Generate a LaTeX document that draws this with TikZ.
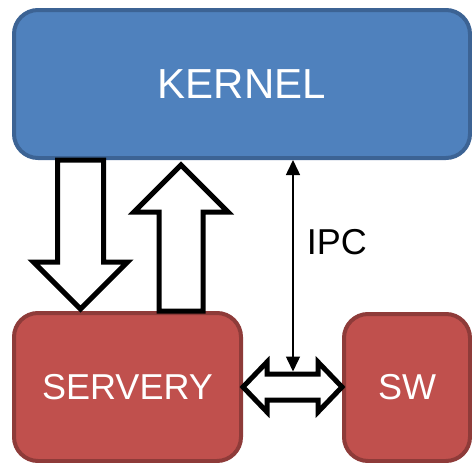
\documentclass[tikz,border=0pt]{standalone}
\usepackage{fontspec}
\setmainfont{Liberation Sans}
\usetikzlibrary{arrows.meta,calc}

\definecolor{kernelblue}{HTML}{4F81BD}
\definecolor{kernelline}{HTML}{3C6394}
\definecolor{serveryred}{HTML}{C0504D}
\definecolor{serveryline}{HTML}{8E3B39}

\tikzset{
unitbox/.style={rectangle, rounded corners=24pt, line width=4pt, text=white, inner sep=0pt},
kbox/.style={unitbox, fill=kernelblue, draw=kernelline},
rbox/.style={unitbox, fill=serveryred, draw=serveryline},
blockarrow/.style={draw=black, fill=white, line width=5pt, line join=miter},
ipc/.style={line width=1.5pt, {Triangle[length=15pt,width=14pt]}-{Triangle[length=15pt,width=14pt]}}
}

\begin{document}
\begin{tikzpicture}[x=1pt,y=-1pt]
\useasboundingbox (0,0) rectangle (472,463);

%boxes
\node [kbox, minimum width=456pt, minimum height=148pt] (kernel) at (242,84) {\fontsize{42}{50}\selectfont KERNEL};
\node [rbox, minimum width=227pt, minimum height=148pt] (servery) at (127.5,387) {\fontsize{36}{43}\selectfont SERVERY};
\node [rbox, minimum width=126pt, minimum height=147pt] (sw) at (407,387.5) {\fontsize{36}{43}\selectfont SW};

%down and up arrows
\coordinate (dtop) at ($(kernel.south west)+(68.5,0)$);
\coordinate (dtip) at ($(servery.north west)+(68.5,-2)$);
\draw [blockarrow] ($(dtop)+(-23,0)$) -- ($(dtop)+(23,0)$) -- ($(dtip)+(23,-47)$) -- ($(dtip)+(47,-47)$) -- (dtip) -- ($(dtip)+(-47,-47)$) -- ($(dtip)+(-23,-47)$) -- cycle;

\coordinate (ubot) at ($(servery.north west)+(169,0)$);
\coordinate (utip) at ($(kernel.south west)+(169,5)$);
\draw [blockarrow] ($(ubot)+(-22,0)$) -- ($(utip)+(-22,47)$) -- ($(utip)+(-47,47)$) -- (utip) -- ($(utip)+(47,47)$) -- ($(utip)+(22,47)$) -- ($(ubot)+(22,0)$) -- cycle;

%double arrow
\coordinate (lt) at (servery.east);
\coordinate (rt) at (sw.west |- servery.east);
\draw [blockarrow] (lt) -- ($(lt)+(24,-25)$) -- ($(lt)+(24,-13)$) -- ($(rt)+(-24,-13)$) -- ($(rt)+(-24,-25)$) -- (rt) -- ($(rt)+(-24,25)$) -- ($(rt)+(-24,13)$) -- ($(lt)+(24,13)$) -- ($(lt)+(24,25)$) -- cycle;

%IPC
\coordinate (ipctop) at ($(kernel.south west)+(281,0)$);
\coordinate (ipcbot) at ($(lt)+(50,-15.5)$);
\draw [ipc] (ipctop) -- (ipcbot) node [pos=0.39, right=13pt, inner sep=0pt, text=black] (ipclabel) {\fontsize{36}{43}\selectfont IPC};

\end{tikzpicture}
\end{document}
